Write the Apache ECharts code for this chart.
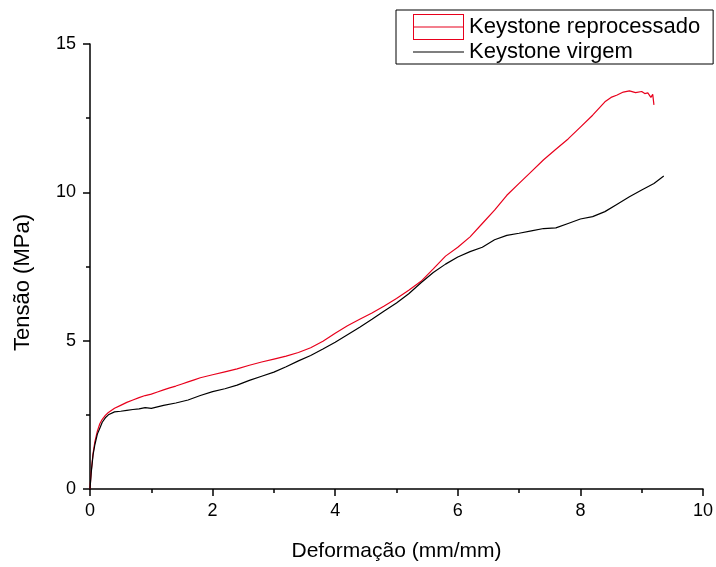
<!DOCTYPE html>
<html>
<head>
<meta charset="utf-8">
<script src="https://cdn.jsdelivr.net/npm/echarts@6/dist/echarts.min.js"></script>
<style>
html,body{margin:0;padding:0;background:#fff;}
#chart{width:716px;height:567px;}
</style>
</head>
<body>
<div id="chart"></div>
<script>
// Keystone reprocessado (red)
const xReprocessado = [0,0.02,0.05,0.08,0.12,0.16,0.2,0.25,0.3,0.4,0.5,0.6,0.7,0.8,0.9,1.0,1.1,1.2,1.3,1.4,1.5,1.6,1.7,1.8,1.9,2.0,2.2,2.4,2.6,2.8,3.0,3.2,3.4,3.6,3.8,4.0,4.2,4.4,4.6,4.8,5.0,5.2,5.4,5.6,5.8,6.0,6.2,6.4,6.6,6.8,7.0,7.2,7.4,7.6,7.8,8.0,8.2,8.4,8.5,8.6,8.7,8.8,8.9,9.0,9.05,9.1,9.15,9.18,9.2];
const yReprocessado = [0,0.6,1.2,1.6,1.95,2.2,2.35,2.48,2.58,2.72,2.82,2.92,3.0,3.08,3.15,3.2,3.27,3.34,3.41,3.47,3.54,3.61,3.68,3.75,3.8,3.85,3.95,4.05,4.17,4.28,4.38,4.48,4.6,4.76,4.98,5.25,5.5,5.72,5.93,6.17,6.42,6.7,7.0,7.42,7.85,8.15,8.5,8.95,9.4,9.9,10.3,10.7,11.1,11.45,11.8,12.2,12.6,13.05,13.2,13.28,13.38,13.42,13.36,13.4,13.33,13.35,13.2,13.3,12.95];
// Keystone virgem (black)
const xVirgem = [0,0.02,0.05,0.08,0.12,0.16,0.2,0.25,0.3,0.4,0.5,0.6,0.7,0.8,0.9,1.0,1.2,1.4,1.6,1.8,2.0,2.2,2.4,2.6,2.8,3.0,3.2,3.4,3.6,3.8,4.0,4.2,4.4,4.6,4.8,5.0,5.2,5.4,5.6,5.8,6.0,6.2,6.4,6.6,6.8,7.0,7.2,7.4,7.6,7.8,8.0,8.2,8.4,8.6,8.8,9.0,9.2,9.36];
const yVirgem = [0,0.55,1.15,1.5,1.85,2.05,2.25,2.4,2.5,2.6,2.62,2.65,2.68,2.7,2.74,2.72,2.82,2.9,3.0,3.15,3.28,3.38,3.5,3.66,3.8,3.94,4.12,4.32,4.5,4.72,4.95,5.2,5.45,5.72,6.0,6.27,6.58,6.95,7.3,7.58,7.82,8.0,8.15,8.4,8.55,8.62,8.7,8.78,8.8,8.95,9.1,9.18,9.35,9.6,9.85,10.08,10.3,10.55];
const xTicks = [0,2,4,6,8,10];
const yTicks = [0,5,10,15];
const seriesNames = ['Keystone reprocessado','Keystone virgem'];

const zip = (xs, ys) => xs.map((x, i) => [x, ys[i]]);
const FONT = 'Arial, "Liberation Sans", sans-serif';

const chart = echarts.init(document.getElementById('chart'), null, {renderer:'canvas'});
chart.setOption({
  animation:false,
  backgroundColor:'#fff',
  grid:{left:90,right:12,top:44,bottom:69,containLabel:false},
  legend:{
    orient:'vertical', left:396, top:10,
    borderColor:'#000', borderWidth:1, padding:[4,13,1,17],
    itemWidth:51, itemHeight:26, itemGap:1,
    textStyle:{fontSize:22, fontFamily:FONT, color:'#000'},
    data:[
      {name:seriesNames[0], icon:'path://M0,0 L51,0 L51,26 L0,26 Z M1,1 L1,12.5 L50,12.5 L50,1 Z M1,13.5 L1,25 L50,25 L50,13.5 Z', itemStyle:{color:'#e8001c', borderWidth:0}},
      {name:seriesNames[1], icon:'path://M0,0 L50,0 L50,1.2 L0,1.2 Z', itemStyle:{color:'#000', borderWidth:0}}
    ]
  },
  xAxis:{
    type:'value', min:xTicks[0], max:xTicks[xTicks.length-1], interval:2,
    name:'Deformação (mm/mm)', nameLocation:'middle', nameGap:52,
    nameTextStyle:{fontSize:21, fontFamily:FONT, color:'#000'},
    axisLine:{show:true, onZero:false, lineStyle:{color:'#000', width:1.5}},
    axisTick:{show:true, length:7, lineStyle:{color:'#000', width:1.5}},
    minorTick:{show:true, splitNumber:2, length:4, lineStyle:{color:'#000', width:1.5}},
    axisLabel:{fontSize:18, fontFamily:FONT, color:'#000', margin:13},
    splitLine:{show:false}
  },
  yAxis:{
    type:'value', min:yTicks[0], max:yTicks[yTicks.length-1], interval:5,
    name:'Tensão (MPa)', nameLocation:'middle', nameGap:56,
    nameTextStyle:{fontSize:22, fontFamily:FONT, color:'#000', padding:[0,32,0,0]},
    axisLine:{show:true, onZero:false, lineStyle:{color:'#000', width:1.5}},
    axisTick:{show:true, length:7, lineStyle:{color:'#000', width:1.5}},
    minorTick:{show:true, splitNumber:2, length:4, lineStyle:{color:'#000', width:1.5}},
    axisLabel:{fontSize:18, fontFamily:FONT, color:'#000', margin:14},
    splitLine:{show:false}
  },
  series:[
    {name:seriesNames[0], type:'line', data:zip(xReprocessado,yReprocessado), showSymbol:false, symbol:'none',
     lineStyle:{color:'#e8001c', width:1.2}, itemStyle:{color:'#e8001c'}, z:2},
    {name:seriesNames[1], type:'line', data:zip(xVirgem,yVirgem), showSymbol:false, symbol:'none',
     lineStyle:{color:'#000', width:1.2}, itemStyle:{color:'#000'}, z:3}
  ]
});
</script>
</body>
</html>
